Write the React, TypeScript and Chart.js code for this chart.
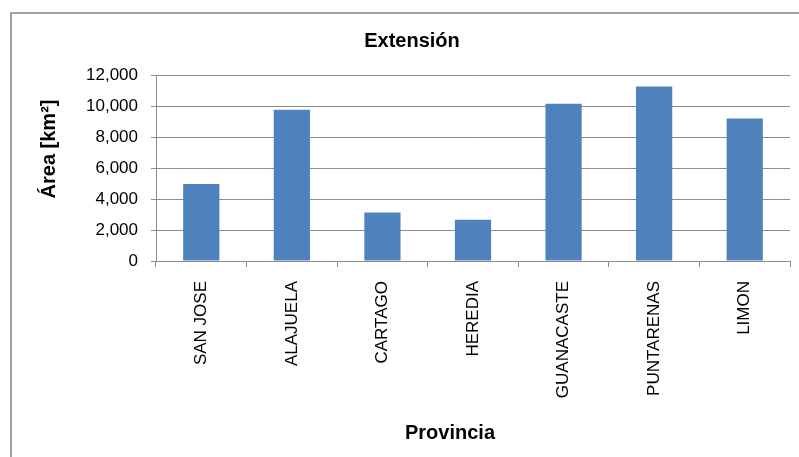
import { useEffect, useRef } from 'react';
import { Chart, registerables } from 'chart.js';

Chart.register(...registerables);

const TITLE = 'Extensión';
const X_TITLE = 'Provincia';
const Y_TITLE = 'Área [km²]';
const categories = ['SAN JOSE', 'ALAJUELA', 'CARTAGO', 'HEREDIA', 'GUANACASTE', 'PUNTARENAS', 'LIMON'];
const areaValues = [4966, 9757, 3125, 2657, 10141, 11266, 9189];
const yMin = 0;
const yMax = 12000;
const yStep = 2000;

const FONT = "'Liberation Sans', Arial, sans-serif";

const axisTitlesPlugin = {
  id: 'axisTitles',
  afterDraw(chart: any) {
    const ctx = chart.ctx;
    ctx.save();
    ctx.fillStyle = '#000';
    ctx.font = `bold 20px ${FONT}`;
    ctx.textAlign = 'center';
    ctx.textBaseline = 'middle';
    ctx.fillText(X_TITLE, 450, 433);
    ctx.translate(49, 149);
    ctx.rotate(-Math.PI / 2);
    ctx.fillText(Y_TITLE, 0, 0);
    ctx.restore();
  },
};

export default function App() {
  const ref = useRef<HTMLCanvasElement | null>(null);

  useEffect(() => {
    if (!ref.current) return;
    Chart.defaults.font.family = FONT;
    const chart = new Chart(ref.current, {
      type: 'bar',
      data: {
        labels: categories,
        datasets: [
          {
            label: 'Área',
            data: areaValues,
            backgroundColor: '#4F81BD',
            borderWidth: 0,
            categoryPercentage: 1,
            barPercentage: 0.4,
          },
        ],
      },
      options: {
        responsive: false,
        animation: false,
        layout: { padding: { left: 34, right: 9, top: 0, bottom: 0 } },
        plugins: {
          legend: { display: false },
          tooltip: { enabled: false },
          title: {
            display: true,
            text: TITLE,
            color: '#000',
            font: { family: FONT, size: 20, weight: 'bold' },
            padding: { top: 29, bottom: 22 },
          },
        },
        scales: {
          x: {
            offset: true,
            grid: {
              display: true,
              offset: true,
              drawOnChartArea: false,
              drawTicks: true,
              tickLength: 6,
              color: '#8c8c8c',
            },
            border: { color: '#8c8c8c', width: 1 },
            ticks: {
              autoSkip: false,
              minRotation: 90,
              maxRotation: 90,
              padding: 14,
              color: '#000',
              font: { family: FONT, size: 17 },
            },
            afterFit: (s: any) => {
              s.height = 196;
            },
          },
          y: {
            min: yMin,
            max: yMax,
            grid: {
              color: '#8c8c8c',
              drawTicks: true,
              tickLength: 5,
            },
            border: { color: '#8c8c8c', width: 1 },
            ticks: {
              stepSize: yStep,
              padding: 13,
              color: '#000',
              font: { family: FONT, size: 17 },
              callback: (v: any) => Number(v).toLocaleString('en-US'),
            },
            afterFit: (s: any) => {
              s.width = 122;
            },
          },
        },
      },
      plugins: [axisTitlesPlugin],
    });
    return () => chart.destroy();
  }, []);

  return (
    <div
      style={{
        position: 'fixed',
        left: 0,
        top: 0,
        width: 799,
        height: 457,
        overflow: 'hidden',
        background: '#fff',
      }}
    >
      <canvas ref={ref} width={799} height={457} style={{ display: 'block' }} />
      <div
        style={{
          position: 'absolute',
          left: 10,
          top: 12,
          width: 900,
          height: 600,
          borderLeft: '2px solid #a0a0a0',
          borderTop: '2px solid #a0a0a0',
          pointerEvents: 'none',
        }}
      />
    </div>
  );
}
